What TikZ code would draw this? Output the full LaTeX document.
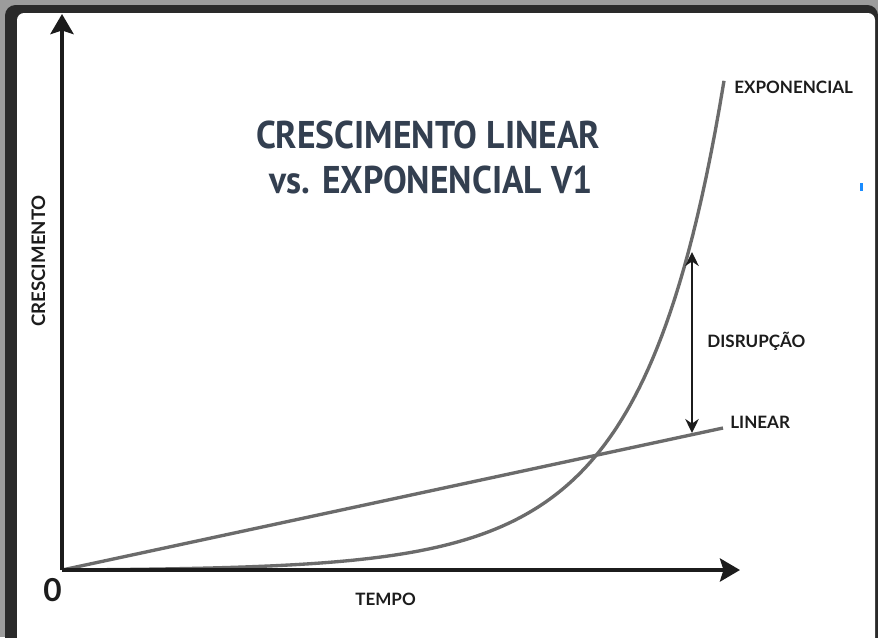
\documentclass[tikz,border=0pt]{standalone}
\usepackage{fontspec}
\setmainfont{Lato}
\newfontfamily\titlefont{PT Sans}[FakeStretch=0.92]
\usetikzlibrary{arrows.meta,positioning}

\definecolor{framedark}{HTML}{2A2A2A}
\definecolor{frameshade}{HTML}{9C9C9C}
\definecolor{titleslate}{HTML}{333F50}
\definecolor{curvegray}{HTML}{6B6B6B}
\definecolor{inkblack}{HTML}{1C1C1C}
\definecolor{markblue}{HTML}{1A8CFF}

\begin{document}
\begin{tikzpicture}[x=0.02cm, y=-0.02cm, line join=round,
    axisline/.style={draw=inkblack, line width=2.8pt, -{Stealth[length=0.4cm, width=0.46cm, inset=0.07cm]}},
    growth/.style={draw=curvegray, line width=1.9pt},
    gap/.style={draw=inkblack, line width=1.6pt, {Stealth[length=0.28cm, width=0.27cm]}-{Stealth[length=0.28cm, width=0.27cm]}},
    tag/.style={inner sep=0pt, text=inkblack, font=\bfseries\fontsize{9.7}{12}\selectfont},
    headline/.style={inner sep=0pt, text=titleslate, font=\titlefont\bfseries\fontsize{22}{26}\selectfont}]

    % frame
    \useasboundingbox (0,0) rectangle (878,637);
    \clip (0,0) rectangle (878,637);
    \fill[frameshade] (0,0) rectangle (878,637);
    \fill[framedark, rounded corners=6] (5,5) rectangle (878,660);
    \fill[white, rounded corners=4] (17,13) rectangle (875,660);
    \fill[markblue] (860,183) rectangle (863,191);

    % points
    \coordinate (O)      at (62,570);
    \coordinate (ytip)   at (62,14);
    \coordinate (xtip)   at (740,570);
    \coordinate (linend) at (723,428);
    \coordinate (dtop)   at (692,252);
    \coordinate (dbot)   at (692,433);

    % curves
    \draw[growth] (O) -- (linend);
    \draw[growth] plot[domain=0:662, samples=150] ({62+\x},{570-0.653*(exp(0.0095*\x)-1)-exp(0.02*\x-8.325)}) coordinate (expend);

    % axes
    \draw[axisline] (O) -- (ytip);
    \draw[axisline] (O) -- (xtip);
    \path (dtop) edge[gap] (dbot);

    % texts
    \node[tag, anchor=base west] (exp)  at (734,93)  {EXPONENCIAL};
    \node[tag, anchor=base west] (disr) at (707,347) {DISRUPÇÃO};
    \node[tag, anchor=base west] (lin)  at (730,428) {LINEAR};
    \node[tag, anchor=base west] (tempo) at (355,605) {TEMPO};
    \node[tag, anchor=base west, rotate=90, font=\bfseries\fontsize{10.6}{13}\selectfont] (cresc) at (45,327) {CRESCIMENTO};
    \node[tag, anchor=base west, font=\bfseries\fontsize{18}{20}\selectfont] (zero) at (43,601) {0};

    \node[headline, anchor=base] (titletop) at (428,148) {CRESCIMENTO LINEAR};
    \node[headline, anchor=base] (titlebot) at (431,193) {vs. EXPONENCIAL V1};
\end{tikzpicture}
\end{document}
